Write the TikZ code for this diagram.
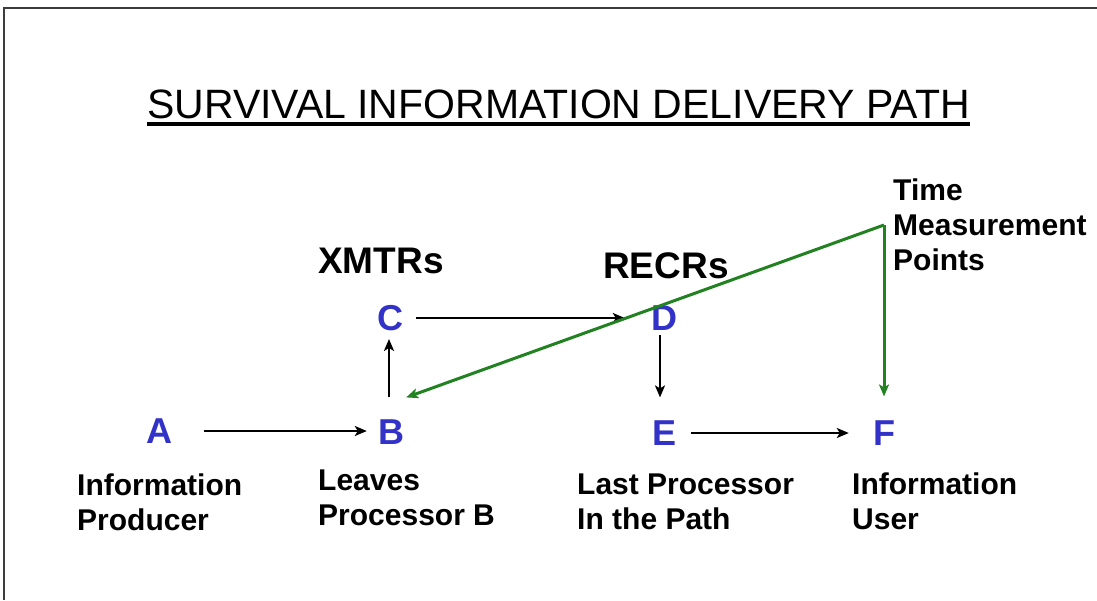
\documentclass[tikz,border=0pt]{standalone}
\usepackage{fontspec}
\setmainfont{Liberation Sans}
\usetikzlibrary{arrows.meta}
\definecolor{letterblue}{RGB}{50,50,200}
\definecolor{pathgreen}{RGB}{34,130,34}
\definecolor{framegray}{RGB}{60,60,60}
\begin{document}
\begin{tikzpicture}[x=1pt,y=-1pt,
  letter/.style={font=\fontsize{36}{36}\selectfont\bfseries, text=letterblue, inner sep=0pt},
  desc/.style={font=\fontsize{30}{35}\selectfont\bfseries, align=left, anchor=base west, inner sep=0pt},
  group/.style={font=\fontsize{37}{37}\selectfont\bfseries, anchor=base west, inner sep=0pt},
  flow/.style={line width=2.5pt, -{Stealth[length=12pt,width=10pt,inset=3pt]}},
  timing/.style={line width=3pt, draw=pathgreen, -{Stealth[length=12pt,width=10pt,inset=3pt]}}
]
\useasboundingbox (0,0) rectangle (1097,600);
\fill[white] (0,0) rectangle (1097,600);
% frame
\draw[framegray, line width=2pt] (4,600) -- (4,8) -- (1097,8);

% title
\node[font=\fontsize{41}{41}\selectfont, anchor=base west, inner sep=0pt] (title) at (147,118) {SURVIVAL INFORMATION DELIVERY PATH};
\draw[line width=3.5pt] ([yshift=-6pt]title.base west) -- ([yshift=-6pt]title.base east);

% group headings
\node[group] (xmtrs) at (318,273) {XMTRs};
\node[group] (recrs) at (603,278) {RECRs};

% letters
\node[letter] (A) at (159,431) {A};
\node[letter] (B) at (391,432) {B};
\node[letter] (C) at (390,318) {C};
\node[letter] (D) at (664,318) {D};
\node[letter] (E) at (664,433) {E};
\node[letter] (F) at (884,433) {F};

% descriptions (anchor at baseline of last line)
\node[desc] (dA) at (77,530) {Information\\Producer};
\node[desc] (dB) at (318,525) {Leaves\\Processor B};
\node[desc] (dE) at (577,529) {Last Processor\\In the Path};
\node[desc] (dF) at (852,529) {Information\\User};
\node[desc] (dT) at (893,270) {Time\\Measurement\\Points};

% flow arrows
\draw[flow] ([xshift=32pt]A.east) -- ([xshift=-11pt]A.east -| B.west);
\draw[flow] ([yshift=22pt]B.north -| 389,0) -- ([yshift=-8pt]C.south -| 389,0);
\draw[flow] ([xshift=13pt]C.east) -- ([xshift=-26pt]C.east -| D.west);
\draw[flow] ([yshift=-4pt]D.south -| 660,0) -- ([yshift=23pt]E.north -| 660,0);
\draw[flow] ([xshift=15pt]E.east) -- ([xshift=-24pt]E.east -| F.west);

% time measurement points
\coordinate (T) at (884,225);
\draw[timing] (T) -- ([xshift=2pt,yshift=22pt]B.north east);
\draw[timing] (T) -- ([yshift=24pt]F.north);
\end{tikzpicture}
\end{document}
